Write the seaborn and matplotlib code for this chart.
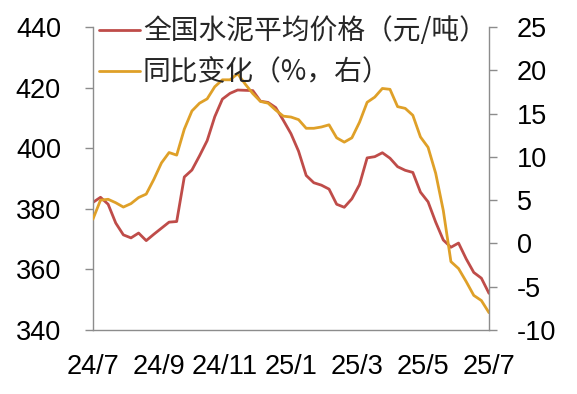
import pandas as pd
import numpy as np
import matplotlib
matplotlib.use("Agg")
import matplotlib.pyplot as plt
import seaborn as sns

# 周度数据 2024/7 - 2025/7
price = [382.1, 383.8, 381.5, 375.3, 371.4, 370.4, 372.0, 369.5, 371.6, 373.6,
         375.6, 375.8, 390.5, 392.8, 397.5, 402.5, 410.4, 416.2, 418.1, 419.2,
         419.1, 419.0, 415.5, 415.1, 413.4, 409.2, 404.8, 399.0, 391.0, 388.6,
         387.8, 386.5, 381.5, 380.5, 383.3, 388.0, 396.8, 397.2, 398.5, 396.7,
         393.9, 392.7, 392.0, 385.5, 382.3, 375.6, 369.7, 367.3, 368.7, 363.5,
         359.0, 357.1, 352.1]
yoy = [2.8, 5.0, 5.1, 4.7, 4.2, 4.6, 5.3, 5.7, 7.4, 9.3,
       10.5, 10.2, 13.2, 15.3, 16.2, 16.7, 18.1, 18.9, 18.9, 19.6,
       18.4, 17.3, 16.4, 16.2, 15.4, 14.7, 14.6, 14.3, 13.3, 13.3,
       13.45, 13.7, 12.2, 11.7, 12.2, 14.0, 16.3, 16.9, 17.9, 17.8,
       15.8, 15.6, 14.8, 12.3, 11.1, 8.1, 3.8, -2.1, -2.9, -4.4,
       -6.0, -6.6, -8.0]
tick_labels = ["24/7", "24/9", "24/11", "25/1", "25/3", "25/5", "25/7"]

df = pd.DataFrame({"week": range(len(price)), "price": price, "yoy": yoy})

sns.set_theme(style="white")
plt.rcParams["font.family"] = ["Liberation Sans", "Noto Sans CJK SC", "DejaVu Sans"]
plt.rcParams["axes.unicode_minus"] = False

fig = plt.figure(figsize=(5.77, 3.94), dpi=100)
ax = fig.add_axes([0.161, 0.1624, 0.6865, 0.7691])
ax2 = ax.twinx()

red = "#BF4C49"
gold = "#DFA028"
sns.lineplot(data=df, x="week", y="price", ax=ax, color=red, linewidth=2.0,
             label="全国水泥平均价格（元/吨）", legend=False, solid_joinstyle="round")
sns.lineplot(data=df, x="week", y="yoy", ax=ax2, color=gold, linewidth=2.0,
             label="同比变化（%，右）", legend=False, solid_joinstyle="round")

n = len(price) - 1
ax.set_xlim(0, n)
ax.set_xticks(np.linspace(0, n, len(tick_labels)))
ax.set_xticklabels(tick_labels)
ax.set_ylim(340, 440)
ax.set_yticks(range(340, 441, 20))
ax2.set_ylim(-10, 25)
ax2.set_yticks(range(-10, 26, 5))
ax.set_xlabel("")
ax.set_ylabel("")
ax2.set_ylabel("")

spine_c = "#8C8C8C"
for a in (ax, ax2):
    for s in a.spines.values():
        s.set_visible(False)
    a.tick_params(colors=spine_c, labelcolor="black", labelsize=19.5,
                  length=6, width=1, direction="out")
ax.spines["left"].set_visible(True)
ax.spines["bottom"].set_visible(True)
ax2.spines["right"].set_visible(True)
for s in (ax.spines["left"], ax.spines["bottom"], ax2.spines["right"]):
    s.set_color(spine_c)
    s.set_linewidth(1)
ax.tick_params(axis="x", pad=11)
ax.tick_params(axis="y", pad=17)
ax2.tick_params(axis="y", pad=14, left=False, right=True)

h1, l1 = ax.get_legend_handles_labels()
h2, l2 = ax2.get_legend_handles_labels()
leg = ax2.legend(h1 + h2, l1 + l2, loc="upper left", bbox_to_anchor=(-0.012, 1.072),
                 frameon=False, handlelength=1.45, handletextpad=0.12,
                 labelspacing=0.4, borderaxespad=0,
                 prop={"family": ["Noto Sans CJK SC", "DejaVu Sans"], "size": 20})

fig.savefig("out.png", dpi=100)
